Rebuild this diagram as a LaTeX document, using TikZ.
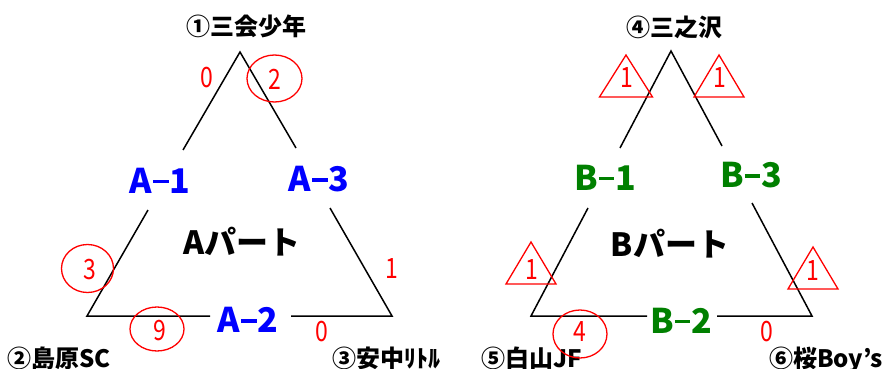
\documentclass[tikz,border=0pt]{standalone}
\usepackage{fontspec}
\setmainfont{Noto Sans CJK JP}
\newfontfamily\digitfont{Noto Sans CJK JP}[FakeStretch=0.82]
\definecolor{grn}{RGB}{0,128,0}
\newcommand{\dsh}{\kern0.03em\rule[0.29em]{0.45em}{0.1em}\kern0.03em}
\begin{document}
\begin{tikzpicture}[x=1pt,y=-1pt,
  edge/.style={line width=1.5pt,black,line join=miter},
  team/.style={font=\fontsize{24}{24}\selectfont\bfseries,inner sep=0},
  alab/.style={font=\fontsize{34}{34}\selectfont\bfseries,text=blue,inner sep=0},
  blab/.style={font=\fontsize{34}{34}\selectfont\bfseries,text=grn,inner sep=0},
  part/.style={font=\fontsize{32}{32}\selectfont\bfseries,inner sep=0},
  score/.style={font=\fontsize{28}{28}\digitfont,text=red,inner sep=0},
  ring/.style={draw=red,line width=1.3pt},
  tri/.style={draw=red,line width=1.3pt,line join=miter}]
\path[use as bounding box,fill=white] (0,0) rectangle (892,369);

% ---------- A part ----------
\coordinate (aA) at (240,52);
\coordinate (aBL) at (87,316);
\coordinate (aBR) at (392,316);
\coordinate (aLt) at (183,150);
\coordinate (aLb) at (148,210);
\coordinate (aRt) at (296,148);
\coordinate (aRb) at (330,208);
\coordinate (aG1) at (210,316);
\coordinate (aG2) at (291,316);
\draw[edge] (aLt) -- (aA) -- (aRt);
\draw[edge] (aLb) -- (aBL) -- (aG1);
\draw[edge] (aG2) -- (aBR) -- (aRb);

\node[team,anchor=base] (t1) at (246.5,36) {①三会少年};
\node[team,anchor=base west] (t2) at (7,367.5) {②島原SC};
\node[team,anchor=base west] (t3) at (332,367.5) {③安中ﾘﾄﾙ};

\node[alab] (a1) at (160,180.5) {A\dsh 1};
\node[alab] (a3) at (319,179) {A\dsh 3};
\node[alab] (a2) at (248,320) {A\dsh 2};
\node[part] (pa) at (242,242) {Aパート};

\node[score] (s1) at (206.5,78) {0};
\node[score] (s2) at (275,79) {2};
\draw[ring] (274.5,78.5) ellipse [x radius=27.5,y radius=23.5];
\node[score] (s3) at (89.5,270) {3};
\draw[ring] (87.5,268.5) ellipse [x radius=26,y radius=24];
\node[score] (s4) at (392,269) {1};
\node[score] (s5) at (160,331) {9};
\draw[ring] (157,329) ellipse [x radius=27,y radius=22];
\node[score] (s6) at (322,332) {0};

% ---------- B part ----------
\coordinate (bA) at (671,51);
\coordinate (bBL) at (531,316);
\coordinate (bBR) at (812,316);
\coordinate (bLt) at (620,148);
\coordinate (bLb) at (588,208);
\coordinate (bRt) at (722,146);
\coordinate (bRb) at (752,203);
\coordinate (bG1) at (647,316);
\coordinate (bG2) at (717,316);
\draw[edge] (bLt) -- (bA) -- (bRt);
\draw[edge] (bLb) -- (bBL) -- (bG1);
\draw[edge] (bG2) -- (bBR) -- (bRb);

\node[team,anchor=base] (t4) at (674,37) {④三之沢};
\node[team,anchor=base west] (t5) at (481,367.5) {⑤白山JF};
\node[team,anchor=base west] (t6) at (769,367.5) {⑥桜Boy’s};

\node[blab] (b1) at (605,177.5) {B\dsh 1};
\node[blab] (b3) at (751,175) {B\dsh 3};
\node[blab] (b2) at (681,320.5) {B\dsh 2};
\node[part] (pb) at (670,243.5) {Bパート};

\draw[tri] (626,55) -- (652.5,97) -- (599.5,97) -- cycle;
\node[score] (u1) at (627,78) {1};
\draw[tri] (719,55) -- (744,97) -- (694,97) -- cycle;
\node[score] (u2) at (720,78) {1};
\draw[tri] (531,242) -- (556,284) -- (506,284) -- cycle;
\node[score] (u3) at (532,270) {1};
\draw[tri] (813,247) -- (838,289) -- (788,289) -- cycle;
\node[score] (u4) at (813,271) {1};

\node[score] (u5) at (580,332) {4};
\draw[ring] (580,334) ellipse [x radius=27,y radius=24];
\node[score] (u6) at (767,332) {0};
\end{tikzpicture}
\end{document}
